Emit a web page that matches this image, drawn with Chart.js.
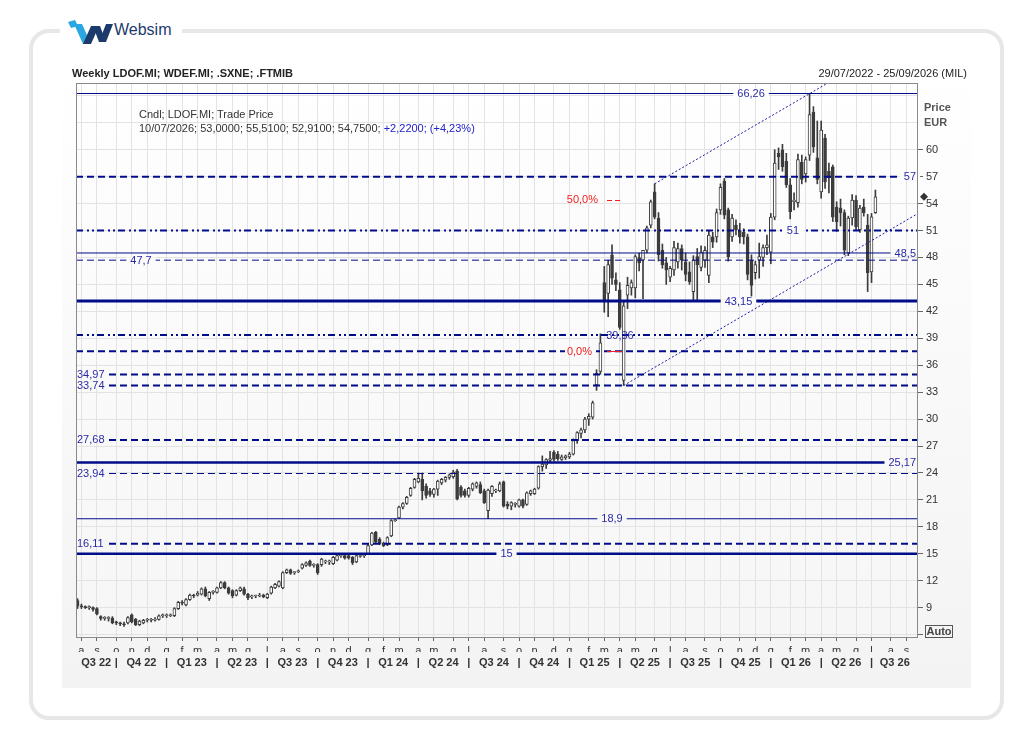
<!DOCTYPE html>
<html>
<head>
<meta charset="utf-8">
<title>Weekly LDOF.MI</title>
<script src="https://cdn.jsdelivr.net/npm/chart.js@4.4.1/dist/chart.umd.min.js"></script>
<style>
  body { margin:0; width:1034px; height:750px; position:relative; overflow:hidden; background:#fff;
         font-family:"Liberation Sans", Arial, sans-serif; font-size:11px; color:#222; }
  #card { position:absolute; left:29px; top:29px; width:967px; height:683px; border:4px solid #e7e7e7; border-radius:20px; }
  #logo { position:absolute; left:60px; top:14px; width:122px; height:34px; background:#fff; }
  #logo span { position:absolute; left:54px; top:7px; font-size:16px; color:#1d3a6c; }
  #panel { position:absolute; left:62px; top:60px; width:909px; height:628px;
           background:linear-gradient(#ffffff 0%, #fbfbfb 35%, #f3f3f3 100%); }
  #chart { position:absolute; left:0; top:0; }
  .t { position:absolute; white-space:nowrap; line-height:14px; }
  .b { font-weight:bold; }
  .blue { color:#2323c8; }
  #auto { position:absolute; left:925px; top:625px; width:26px; height:11px; border:1px solid #555;
          font-weight:bold; line-height:11px; text-align:center; color:#444; }
</style>
</head>
<body>
<div id="card"></div>
<div id="logo">
  <svg width="50" height="34" style="position:absolute;left:6px;top:2px">
    <polygon points="2,6 9,4 12,10 5,12" fill="#2aa7e0"/>
    <polygon points="8,8 16,8 25,28 17,28" fill="#2aa7e0"/>
    <polygon points="17,28 25,28 33,10 25,10" fill="#1d3a6c"/>
    <polygon points="27,10 34,10 40,26 33,26" fill="#1d3a6c"/>
    <polygon points="33,26 40,26 47,8 40,8" fill="#1d3a6c"/>
  </svg>
  <span>Websim</span>
</div>
<div id="panel"></div>
<canvas id="chart" width="1034" height="750"></canvas>
<div class="t b" style="left:72px;top:66px">Weekly LDOF.MI; WDEF.MI; .SXNE; .FTMIB</div>
<div class="t" style="right:67px;top:66px">29/07/2022 - 25/09/2026 (MIL)</div>
<div class="t" style="left:139px;top:107px;color:#333">Cndl; LDOF.MI; Trade Price</div>
<div class="t" style="left:139px;top:121px;color:#333">10/07/2026; 53,0000; 55,5100; 52,9100; 54,7500; <span class="blue">+2,2200; (+4,23%)</span></div>
<div class="t b" style="left:924px;top:100px;color:#555">Price</div>
<div class="t b" style="left:924px;top:115px;color:#555">EUR</div>
<div id="auto">Auto</div>
<script>
// weekly candles, week 0 = 29/07/2022, last = 10/07/2026
const opens = [
  9.8,9.2,9.1,9.0,9.0,8.9,8.0,7.8,7.8,7.8, 7.4,7.3,7.2,7.3,8.2,7.7,7.1,7.3,7.6,7.6,
  7.6,7.7,8.1,8.1,8.1,8.1,8.9,9.6,9.3,9.9, 10.4,10.4,10.5,11.1,10.0,10.7,10.7,11.2,11.8,11.2,
  10.9,10.4,10.9,11.1,10.5,10.2,10.3,10.3,10.4,10.1, 10.6,11.2,11.4,11.2,12.9,13.2,12.9,13.0,13.4,13.7,
  14.2,13.7,13.8,13.8,14.1,14.1,13.9,14.3,14.8,14.8, 14.8,14.6,14.1,14.7,14.8,15.0,16.0,17.4,16.6,16.2,
  16.0,17.0,18.7,19.0,20.2,20.6,21.5,22.4,23.0,23.3, 22.5,22.0,21.6,22.2,22.9,23.2,23.5,23.6,24.2,22.4,
  22.0,21.5,22.2,22.5,22.7,22.0,19.8,21.7,22.0,22.0, 23.0,20.5,20.3,20.5,20.3,21.0,20.5,21.7,21.7,22.3,
  24.7,24.9,25.4,26.3,26.1,25.5,25.7,25.8,26.1,27.6, 28.4,28.8,30.0,30.2,33.8,35.3,45.2,44.0,48.3,45.5,
  44.4,34.3,43.8,44.6,44.6,48.0,47.7,48.8,51.6,55.3, 52.4,48.8,47.4,45.8,46.6,47.5,49.0,47.5,46.4,44.2,
  48.1,46.9,47.7,46.0,50.3,50.3,53.3,56.5,53.3,50.3, 51.6,51.0,50.8,50.3,47.7,46.3,47.7,48.0,49.1,48.6,
  52.5,59.6,60.0,58.7,56.1,54.2,54.1,58.6,57.3,59.4, 64.2,59.1,55.3,61.3,57.6,58.1,53.6,53.5,53.0,48.5,
  52.4,54.4,51.1,53.6,51.6,46.4,53.00
];
const highs = [
  10.0,9.4,9.2,9.2,9.1,9.0,8.1,8.0,8.0,8.0, 7.5,7.4,7.4,8.0,8.3,7.8,7.6,7.7,7.8,7.8,
  7.9,8.2,8.3,8.3,8.3,9.0,9.7,9.8,10.0,10.5, 10.5,10.8,11.2,11.3,10.8,10.9,11.3,11.9,11.9,11.3,
  11.0,11.0,11.3,11.3,10.6,10.4,10.4,10.6,10.5,10.6, 11.4,11.7,12.0,13.0,13.3,13.3,13.0,13.2,13.9,14.1,
  14.3,13.9,13.9,14.5,14.3,14.3,14.7,14.9,15.0,15.0, 14.9,14.7,14.9,14.9,15.0,16.1,17.4,17.5,16.8,16.3,
  16.9,18.8,18.9,20.3,20.7,21.4,22.4,23.4,24.0,24.0, 22.8,22.3,22.3,23.2,23.4,23.6,23.9,24.3,24.4,22.6,
  22.2,22.4,22.9,23.0,23.0,22.2,22.2,22.6,22.2,23.0, 23.1,20.8,20.8,20.7,21.1,21.1,21.9,22.1,22.3,24.8,
  25.9,25.6,26.4,26.5,26.4,26.0,26.0,26.3,27.8,28.6, 29.0,30.2,30.6,32.0,35.5,39.5,47.0,47.7,49.4,46.3,
  45.2,43.2,45.8,45.5,48.3,48.5,48.8,51.5,54.4,56.2, 53.0,49.5,48.0,47.0,49.8,49.6,49.4,48.5,47.5,48.2,
  49.0,49.3,49.2,51.0,50.8,53.4,56.2,56.8,53.5,52.8, 52.2,51.8,51.2,50.6,48.3,47.6,49.6,49.4,50.5,52.9,
  60.0,60.2,60.6,59.6,56.8,55.2,59.5,59.4,59.2,66.26, 64.8,63.2,63.2,61.7,58.5,58.3,54.2,54.5,53.3,52.6,
  55.0,54.9,53.8,54.5,52.8,52.9,55.51
];
const lows = [
  8.9,8.9,8.9,8.8,8.6,8.2,7.6,7.6,7.5,7.2, 7.1,7.0,6.9,7.2,7.3,7.0,7.0,7.2,7.4,7.4,
  7.5,7.6,7.9,7.9,8.0,8.0,8.8,9.3,9.2,9.8, 10.1,10.3,10.4,10.2,9.8,10.5,10.6,11.1,11.1,10.5,
  10.1,10.3,10.8,10.4,9.9,10.0,10.1,10.2,10.1,10.0, 10.5,11.1,11.3,11.1,12.8,12.7,12.7,12.9,13.3,13.6,
  13.6,13.5,12.7,13.6,13.9,13.8,13.8,14.2,14.6,14.4, 14.4,13.8,14.0,14.6,14.6,14.9,15.9,16.2,16.0,15.8,
  15.9,16.9,18.6,18.9,20.0,20.5,21.4,22.3,22.9,21.0, 21.2,21.4,21.3,21.5,22.7,23.0,23.3,23.4,21.0,21.3,
  21.3,21.3,22.0,22.3,21.7,20.6,18.9,21.4,21.8,21.9, 20.2,20.0,19.9,20.2,20.2,20.1,20.4,21.5,21.6,22.2,
  24.2,24.5,25.2,25.3,25.4,25.4,25.5,25.6,26.0,27.3, 27.9,28.5,29.3,30.0,33.2,35.0,41.9,41.4,45.0,44.3,
  40.0,33.74,42.3,43.8,43.5,46.5,43.4,48.5,51.3,52.3, 47.6,46.8,45.0,45.3,46.0,46.8,46.6,45.4,45.0,43.3,
  43.2,46.5,46.9,45.2,49.1,49.7,52.8,52.3,47.6,49.8, 50.5,49.6,49.5,45.5,43.7,45.6,45.7,47.0,48.3,47.3,
  52.2,57.8,57.6,55.8,52.3,53.3,53.6,56.2,56.4,58.8, 59.7,56.2,54.6,55.7,55.2,52.0,50.9,51.5,48.3,48.2,
  51.6,51.0,50.8,52.6,44.2,45.2,52.91
];
const closes = [
  9.2,9.1,9.0,9.0,8.8,8.3,7.8,7.8,7.8,7.3, 7.3,7.2,7.1,7.9,7.4,7.1,7.5,7.6,7.6,7.6,
  7.7,8.1,8.1,8.1,8.2,8.9,9.6,9.5,9.9,10.4, 10.3,10.6,11.1,10.3,10.7,10.7,11.2,11.8,11.2,10.6,
  10.3,10.9,11.2,10.5,10.1,10.3,10.3,10.4,10.2,10.5, 11.3,11.6,11.9,12.9,13.2,12.8,12.9,13.1,13.8,14.0,
  13.7,13.7,12.9,14.4,14.1,14.1,14.6,14.8,14.8,14.5, 14.5,14.0,14.8,14.7,14.8,15.9,17.3,16.3,16.1,15.9,
  16.8,18.7,18.8,20.2,20.6,21.3,22.3,23.3,23.4,22.0, 21.5,21.6,22.2,23.1,23.3,23.5,23.8,24.1,21.1,21.5,
  21.5,22.3,22.8,22.9,21.8,20.7,22.1,22.5,22.0,22.8, 20.3,20.3,20.7,20.5,21.0,20.3,21.8,22.0,22.2,24.7,
  25.0,25.5,25.6,25.5,25.6,25.8,25.9,26.1,27.6,28.5, 28.8,30.0,30.3,31.8,35.1,38.5,43.3,47.2,45.7,45.0,
  40.2,42.6,44.9,45.2,48.1,47.4,48.8,51.3,54.2,52.5, 48.3,47.2,46.6,46.8,49.1,49.0,47.7,46.1,45.3,47.7,
  47.2,48.6,48.8,50.5,49.7,53.0,55.8,52.7,48.1,52.4, 51.1,50.3,50.3,46.1,44.9,47.2,48.1,49.1,49.4,52.5,
  58.5,59.2,58.1,56.1,53.1,54.4,58.9,56.7,58.9,63.9, 60.3,56.7,62.2,56.4,56.9,52.5,52.0,53.0,48.8,52.4,
  54.4,51.4,53.5,53.0,46.3,52.53,54.75
];

// horizontal study levels drawn on the chart
const levelValues = [66.26, 57, 51, 48.5, 47.7, 43.15, 39.36, 37.55, 34.97, 33.74, 27.68, 25.17, 23.94, 18.9, 16.11, 15];
const levelLabels = ['66,26', '57', '51', '48,5', '47,7', '43,15', '39,36', '', '34,97', '33,74', '27,68', '25,17', '23,94', '18,9', '16,11', '15'];
// fibonacci labels
const fibValues = [54.43, 37.55];
const fibLabels = ['50,0%', '0,0%'];
// channel anchors (week, price)
const channelUpper = [[149, 56.2], [194, 67.5]];
const channelLower = [[141, 33.74], [217, 52.9]];

const yTickValues = [6, 9, 12, 15, 18, 21, 24, 27, 30, 33, 36, 39, 42, 45, 48, 51, 54, 57, 60, 63, 66];
const monthInitials = ['g', 'f', 'm', 'a', 'm', 'g', 'l', 'a', 's', 'o', 'n', 'd'];

// --- styles (kept apart from the data) ---
const navy = '#000c8a';
const levelText = '#2a2aa8';
const candleDark = '#3c3c3c';
const levelStyle = [
  ['solid', 1, 0.8017], ['dash', 2, 'right'], ['dashDot', 2, 0.8515], ['solid', 1, 'right'],
  ['dash', 1, 0.0772], ['solid', 3, 0.7868], ['dashDot', 2, 0.646], ['dash', 2, null],
  ['dash', 2, 'left'], ['dash', 2, 'left'], ['dash', 2, 'left'], ['solid', 2.5, 'right'],
  ['dash', 1, 'left'], ['solid', 1, 0.6366], ['dash', 2, 'left'], ['solid', 2.5, 0.5113]
];
const dashes = { solid: [], dash: [7, 4], dashDot: [7, 4, 2, 3, 2, 3] };

const startMs = Date.UTC(2022, 6, 29);
const weekMs = 7 * 864e5;
const xMin = -0.4, xMax = 217;

// month ticks sit on the first weekly bar of each month
const monthTicks = [];
for (let y = 2022, m = 7; y < 2026 || (y === 2026 && m <= 8);) {
  monthTicks.push({ pos: Math.ceil((Date.UTC(y, m, 1) - startMs) / weekMs), label: monthInitials[m], y: y, m: m });
  m++;
  if (m === 12) { m = 0; y++; }
}
const qBounds = monthTicks.filter(t => t.m % 3 === 0);
const qEdges = [xMin].concat(qBounds.map(t => t.pos), [xMax]);
const qNames = ['Q3 22'].concat(qBounds.map(t => 'Q' + (t.m / 3 + 1) + ' ' + String(t.y).slice(2)));
const quarterTicks = [];
qNames.forEach((n, k) => {
  quarterTicks.push({ pos: (qEdges[k] + qEdges[k + 1]) / 2, label: n });
  if (k < qBounds.length) quarterTicks.push({ pos: qBounds[k].pos, label: '|' });
});

const weeks = opens.map((_, i) => i);

Chart.defaults.font.family = '"Liberation Sans", Arial, sans-serif';
Chart.defaults.font.size = 11;
Chart.defaults.color = '#333';

const datasets = [];
levelValues.forEach((v, k) => {
  datasets.push({
    type: 'line', data: [{ x: xMin, y: v }, { x: xMax, y: v }],
    borderColor: navy, borderWidth: levelStyle[k][1], borderDash: dashes[levelStyle[k][0]],
    pointRadius: 0, fill: false, order: 1
  });
});
[channelUpper, channelLower].forEach(c => {
  datasets.push({
    type: 'line', data: c.map(p => ({ x: p[0], y: p[1] })),
    borderColor: '#1c1ca8', borderWidth: 1, borderDash: [2, 2], pointRadius: 0, fill: false, order: 1
  });
});
datasets.push({
  type: 'bar', data: weeks.map(i => ({ x: i, y: [opens[i], closes[i]] })),
  backgroundColor: weeks.map(i => closes[i] >= opens[i] ? '#ffffff' : candleDark),
  borderColor: candleDark, borderWidth: 1, borderSkipped: false,
  barThickness: 3, minBarLength: 1, grouped: false, order: 2
});
datasets.push({
  type: 'bar', data: weeks.map(i => ({ x: i, y: [lows[i], highs[i]] })),
  backgroundColor: candleDark, borderWidth: 0, barThickness: 1, grouped: false, order: 3
});

let plotGrad = null;
const decor = {
  id: 'decor',
  beforeDraw(chart) {
    const { ctx, chartArea: a } = chart;
    plotGrad = ctx.createLinearGradient(0, a.top, 0, a.bottom);
    plotGrad.addColorStop(0, '#ffffff');
    plotGrad.addColorStop(0.15, '#fdfdfd');
    plotGrad.addColorStop(1, '#f6f6f6');
    ctx.save();
    ctx.fillStyle = plotGrad;
    ctx.fillRect(a.left, a.top, a.right - a.left, a.bottom - a.top);
    ctx.restore();
  },
  afterDatasetsDraw(chart) {
    const { ctx, chartArea: a, scales } = chart;
    const ys = scales.y;
    const w = a.right - a.left;
    ctx.save();
    ctx.font = '11px "Liberation Sans", Arial, sans-serif';
    ctx.textBaseline = 'middle';
    levelValues.forEach((v, k) => {
      const text = levelLabels[k];
      if (!text) return;
      const y = ys.getPixelForValue(v);
      const tw = ctx.measureText(text).width;
      const pos = levelStyle[k][2];
      let x0;
      if (pos === 'left') x0 = a.left + 1;
      else if (pos === 'right') x0 = a.right - 2 - tw;
      else x0 = a.left + pos * w - tw / 2;
      if (text !== '39,36') {
        ctx.fillStyle = plotGrad;
        ctx.fillRect(x0 - 4, y - 3, tw + 8, 6);
      }
      ctx.fillStyle = levelText;
      ctx.fillText(text, x0, y + 0.5);
    });
    // fibonacci tags
    fibValues.forEach((v, k) => {
      const y = ys.getPixelForValue(v);
      const tw = ctx.measureText(fibLabels[k]).width;
      const xr = a.left + 520 + (k === 0 ? 2 : -4);
      ctx.fillStyle = plotGrad;
      ctx.fillRect(xr - tw - 2, y - 3, tw + 6, 6);
      ctx.fillStyle = '#f21c1c';
      ctx.fillText(fibLabels[k], xr - tw, y + 0.5);
      ctx.strokeStyle = '#f21c1c';
      ctx.lineWidth = 1;
      ctx.setLineDash(k === 0 ? [5, 3] : []);
      ctx.beginPath();
      ctx.moveTo(a.left + 531, Math.round(y) + 0.5);
      ctx.lineTo(a.left + 546, Math.round(y) + 0.5);
      ctx.stroke();
      ctx.setLineDash([]);
    });
    ctx.restore();
  },
  afterDraw(chart) {
    const { ctx, chartArea: a, scales } = chart;
    ctx.save();
    ctx.strokeStyle = '#8a8a8a';
    ctx.lineWidth = 1;
    ctx.strokeRect(a.left + 0.5, a.top + 0.5, a.right - a.left - 1, a.bottom - a.top - 1);
    // last price marker
    const y = scales.y.getPixelForValue(closes[closes.length - 1]);
    const x = a.right + 6;
    ctx.fillStyle = '#333';
    ctx.beginPath();
    ctx.moveTo(x, y - 4); ctx.lineTo(x + 4, y); ctx.lineTo(x, y + 4); ctx.lineTo(x - 4, y);
    ctx.closePath();
    ctx.fill();
    ctx.restore();
  }
};

new Chart(document.getElementById('chart'), {
  type: 'bar',
  data: { datasets: datasets },
  options: {
    responsive: false,
    animation: false,
    events: [],
    layout: { padding: { left: 76, top: 83, right: 66, bottom: 80 } },
    plugins: { legend: { display: false }, tooltip: { enabled: false } },
    scales: {
      x: {
        type: 'linear', position: 'bottom', min: xMin, max: xMax, offset: false, weight: 0,
        afterBuildTicks: s => { s.ticks = monthTicks.map(t => ({ value: t.pos })); },
        afterFit: s => { s.height = 14; },
        ticks: { autoSkip: false, maxRotation: 0, padding: 3, color: '#333',
                 callback: (v, i) => monthTicks[i] ? monthTicks[i].label : '' },
        grid: { color: '#e3e3e3', tickLength: 3, tickColor: '#666', offset: false },
        border: { display: false }
      },
      x2: {
        type: 'linear', position: 'bottom', min: xMin, max: xMax, offset: false, weight: 1,
        afterBuildTicks: s => { s.ticks = quarterTicks.map(t => ({ value: t.pos })); },
        afterFit: s => { s.height = 18; },
        ticks: { autoSkip: false, maxRotation: 0, padding: 4, color: '#333', font: { weight: 'bold' },
                 callback: (v, i) => quarterTicks[i] ? quarterTicks[i].label : '' },
        grid: { display: false, drawTicks: false, offset: false },
        border: { display: false }
      },
      y: {
        type: 'linear', position: 'right', min: 5.62, max: 67.43,
        afterBuildTicks: s => { s.ticks = yTickValues.map(v => ({ value: v })); },
        afterFit: s => { s.width = 50; },
        ticks: { padding: 3, color: '#333', callback: v => (v >= 9 && v <= 60) ? String(v) : '' },
        grid: { color: '#e3e3e3', tickLength: 5,
                tickColor: c => (c.tick && c.tick.value <= 60) ? '#666' : 'rgba(0,0,0,0)' },
        border: { display: false }
      }
    }
  },
  plugins: [decor]
});
</script>
</body>
</html>
